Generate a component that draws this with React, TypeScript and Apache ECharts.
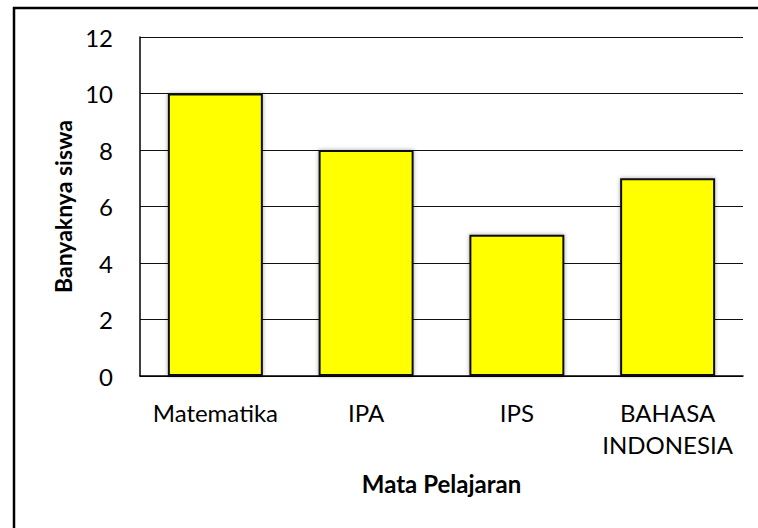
import React, { useEffect, useRef } from "react";
import * as echarts from "echarts";

const categories = ["Matematika", "IPA", "IPS", "BAHASA INDONESIA"];
const values = [10, 8, 5, 7];
const yTicks = { min: 0, max: 12, interval: 2 };
const xName = "Mata Pelajaran";
const yName = "Banyaknya siswa";

const FONT = "Lato";

export default function App() {
  const ref = useRef<HTMLDivElement>(null);
  useEffect(() => {
    if (!ref.current) return;
    const chart = echarts.init(ref.current, null, { renderer: "svg" });
    chart.setOption({
      animation: false,
      backgroundColor: "#ffffff",
      grid: { left: 140, right: 15, top: 37, bottom: 152, containLabel: false },
      xAxis: {
        type: "category",
        data: categories,
        name: xName,
        nameLocation: "middle",
        nameGap: 95,
        nameTextStyle: { fontFamily: FONT, fontWeight: "bold", fontSize: 24, color: "#000" },
        axisLine: { show: true, lineStyle: { color: "#000", width: 1.5 } },
        axisTick: { show: false },
        axisLabel: {
          fontFamily: FONT,
          fontSize: 24,
          color: "#000",
          margin: 20,
          lineHeight: 32,
          interval: 0,
          formatter: (v: string) => v.replace(" ", "\n"),
        },
      },
      yAxis: {
        type: "value",
        min: yTicks.min,
        max: yTicks.max,
        interval: yTicks.interval,
        name: yName,
        nameLocation: "middle",
        nameGap: 64,
        nameTextStyle: { fontFamily: FONT, fontWeight: "bold", fontSize: 23, color: "#000" },
        axisLine: { show: true, lineStyle: { color: "#000", width: 1.5 } },
        axisTick: { show: false },
        axisLabel: { fontFamily: FONT, fontSize: 24, color: "#000", margin: 27 },
        splitLine: { show: true, lineStyle: { color: "#111", width: 1.2 } },
      },
      series: [
        {
          type: "bar",
          data: values,
          barWidth: "63%",
          itemStyle: {
            color: "#ffff00",
            borderColor: "#111",
            borderWidth: 2,
            shadowBlur: 4,
            shadowColor: "rgba(0,0,0,0.35)",
          },
        },
      ],
      graphic: [
        {
          type: "polyline",
          shape: { points: [[14, 528], [14, 8], [758, 8]] },
          style: { stroke: "#000", lineWidth: 2.5, fill: "none" },
          silent: true,
        },
      ],
    });
    return () => chart.dispose();
  }, []);
  return (
    <div
      ref={ref}
      style={{ position: "absolute", left: 0, top: 0, width: 758, height: 528, background: "#fff" }}
    />
  );
}
